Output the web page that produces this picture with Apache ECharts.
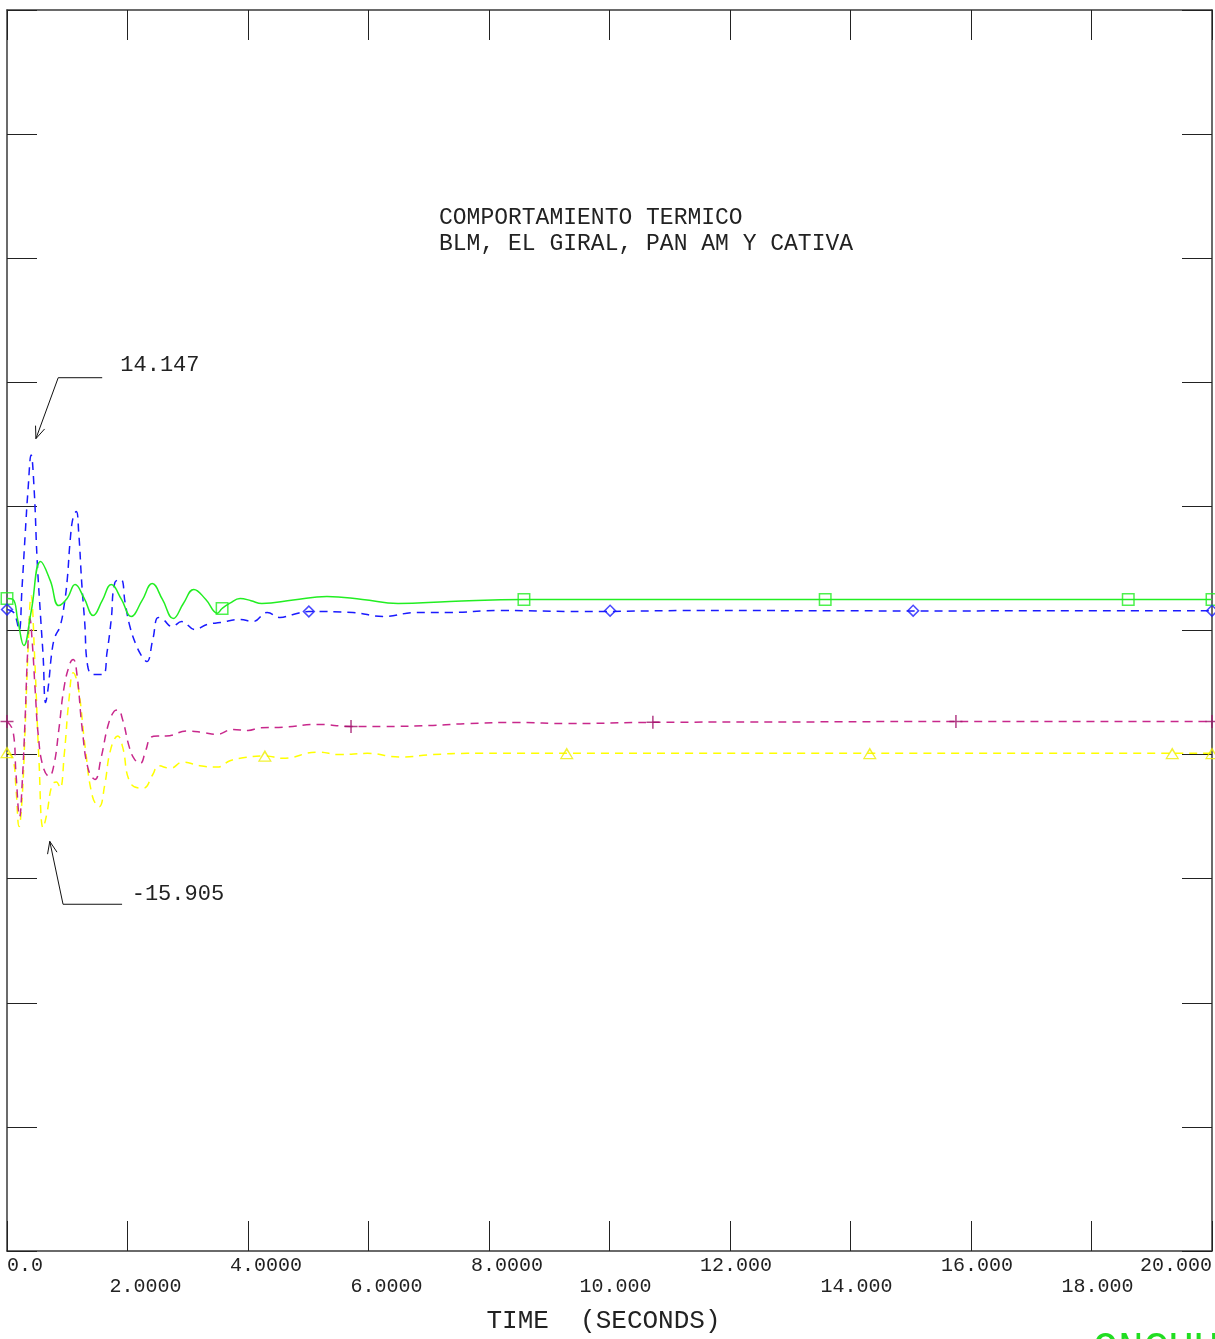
<!DOCTYPE html>
<html>
<head>
<meta charset="utf-8">
<script src="https://cdn.jsdelivr.net/npm/echarts@6/dist/echarts.min.js"></script>
<style>
html,body{margin:0;padding:0;background:#fff;}
#c{width:1215px;height:1339px;}
</style>
</head>
<body>
<div id="c"></div>
<script>
// ---------- data (time in seconds, value) ----------
const titleLines = ['COMPORTAMIENTO TERMICO', 'BLM, EL GIRAL, PAN AM Y CATIVA'];
const xName = 'TIME  (SECONDS)';
const xTickLabels = ['0.0','2.0000','4.0000','6.0000','8.0000','10.000','12.000','14.000','16.000','18.000','20.000'];
const maxLabel = '14.147';
const minLabel = '-15.905';
const footerText = 'ONCUU';

const green = [[0,2.58],[0.10,2.5],[0.18,0.8],[0.28,-1.21],[0.40,1.5],[0.56,5.56],[0.72,4.0],[0.86,2.01],[1.0,2.6],[1.13,3.70],[1.28,2.6],[1.43,1.21],[1.58,2.4],[1.73,3.70],[1.90,2.5],[2.06,1.13],[2.24,2.4],[2.41,3.78],[2.58,2.5],[2.76,0.97],[2.93,2.2],[3.10,3.30],[3.30,2.5],[3.49,1.4],[3.57,1.77],[3.70,2.2],[3.87,2.58],[4.05,2.4],[4.23,2.17],[4.75,2.45],[5.31,2.74],[5.9,2.5],[6.49,2.17],[7.35,2.33],[8.58,2.50],[12,2.5],[16,2.5],[20,2.5]];
const blue = [[0,1.69],[0.10,1.5],[0.15,1.0],[0.20,0.0],[0.25,3.5],[0.30,7.6],[0.35,11.4],[0.40,14.147],[0.45,11.4],[0.50,5.7],[0.56,0.9],[0.60,-2.1],[0.64,-5.8],[0.68,-4.75],[0.75,-1.53],[0.80,-0.48],[0.88,0.32],[0.95,2.09],[1.00,4.11],[1.05,7.33],[1.10,9.18],[1.15,9.58],[1.19,7.9],[1.24,3.86],[1.29,0.64],[1.34,-2.9],[1.43,-3.54],[1.59,-3.54],[1.66,-1.77],[1.73,0.89],[1.79,3.86],[1.89,4.11],[1.96,2.25],[2.04,0.32],[2.14,-1.13],[2.24,-2.09],[2.32,-2.50],[2.42,-0.72],[2.51,1.05],[2.59,0.89],[2.74,0.32],[2.90,0.72],[3.12,0.08],[3.32,0.48],[3.54,0.64],[3.87,0.89],[4.08,0.72],[4.32,1.45],[4.53,1.05],[4.75,1.29],[5.01,1.53],[5.74,1.45],[6.24,1.13],[6.80,1.45],[7.30,1.45],[8.18,1.61],[9.56,1.53],[11.5,1.61],[15,1.58],[20,1.6]];
const magenta = [[0,-7.33],[0.10,-8.1],[0.15,-11.6],[0.21,-15.0],[0.25,-12.5],[0.30,-7.2],[0.34,-2.0],[0.38,1.0],[0.42,-1.0],[0.47,-5.0],[0.52,-8.5],[0.60,-11.0],[0.70,-11.76],[0.78,-10.8],[0.86,-8.0],[0.95,-4.5],[1.05,-2.6],[1.10,-2.33],[1.16,-3.5],[1.25,-8.0],[1.35,-11.2],[1.46,-12.0],[1.56,-10.3],[1.68,-7.6],[1.78,-6.5],[1.84,-6.4],[1.92,-7.2],[2.03,-9.4],[2.12,-10.4],[2.21,-10.7],[2.30,-9.7],[2.39,-8.6],[2.50,-8.5],[2.64,-8.5],[2.99,-8.1],[3.25,-8.21],[3.48,-8.37],[3.75,-7.97],[4.0,-8.05],[4.2,-7.85],[4.58,-7.8],[5.15,-7.57],[5.71,-7.73],[6.24,-7.73],[7.07,-7.65],[7.64,-7.5],[8.47,-7.41],[9.30,-7.5],[10.72,-7.4],[13,-7.37],[15.75,-7.33],[20,-7.33]];
const yellow = [[0,-9.82],[0.10,-10.4],[0.15,-12.8],[0.20,-15.8],[0.25,-13.6],[0.30,-8.0],[0.35,-1.5],[0.40,2.8],[0.46,-2.3],[0.53,-10.4],[0.60,-15.905],[0.66,-14.8],[0.75,-12.4],[0.82,-12.2],[0.88,-12.7],[0.95,-10.0],[1.03,-5.5],[1.10,-3.4],[1.18,-4.5],[1.30,-9.5],[1.42,-13.4],[1.53,-14.2],[1.62,-12.5],[1.72,-9.6],[1.84,-8.5],[1.92,-9.4],[2.05,-12.3],[2.26,-12.7],[2.42,-11.6],[2.51,-10.9],[2.71,-11.1],[2.92,-10.6],[3.20,-10.9],[3.49,-11.0],[3.70,-10.5],[3.87,-10.3],[4.28,-10.1],[4.58,-10.3],[5.15,-9.8],[5.53,-10.0],[5.98,-9.9],[6.52,-10.2],[7.07,-10.0],[7.64,-9.9],[8.47,-9.9],[9.29,-9.9],[20,-9.9]];

const greenMarks = [[0,2.58],[3.57,1.77],[8.58,2.5],[13.58,2.5],[18.61,2.5],[20,2.5]];
const blueMarks = [[0,1.69],[5.01,1.53],[10.01,1.6],[15.04,1.6],[20,1.6]];
const magentaMarks = [[0,-7.33],[5.71,-7.73],[10.72,-7.4],[15.75,-7.33],[20,-7.33]];
const yellowMarks = [[0,-9.82],[4.28,-10.1],[9.29,-9.9],[14.32,-9.9],[19.34,-9.9],[20,-9.9]];

// annotation geometry in data coordinates: tip, knee, end of leader, text anchor
const maxNote = {tip:[0.48,15.46], knee:[0.85,20.37], end:[1.58,20.37], text:[1.88,21.4]};
const minNote = {tip:[0.71,-16.99], knee:[0.93,-22.06], end:[1.91,-22.06], text:[2.07,-21.26]};

// ---------- chart ----------
const MONO = '"Liberation Mono","DejaVu Sans Mono",monospace';
const frame = {color:'#3a3a3a', width:1.5};
const tickStyle = {color:'#222', width:1};

function padLabel(s){
  const d = s.indexOf('.');
  const after = s.length - d - 1;
  const pad = Math.max(0, after - d);
  return ' '.repeat(pad) + s;
}

const symSquare = 'path://M0,0H12V12H0Z M1.4,1.4V10.6H10.6V1.4Z';
const symDiamond = 'path://M6,0L12,6L6,12L0,6Z M6,2L2,6L6,10L10,6Z';
const symTriangle = 'path://M6,0L12,11L0,11Z M6,2.8L1.8,9.8L10.2,9.8Z';
const symPlus = 'path://M5.3,0H6.7V12H5.3Z M0,5.3H12V6.7H0Z';

function lineSeries(data, color, dashed){
  return {type:'line', data:data, smooth:0.45, symbol:'none', showSymbol:false,
    lineStyle:{color:color, width:1.5, type: dashed ? [8,6] : 'solid'}, z:2, silent:true};
}
function markSeries(data, color, sym, w, h){
  return {type:'scatter', data:data, symbol:sym, symbolSize:[w,h], itemStyle:{color:color}, z:3, silent:true, clip:false};
}

const chart = echarts.init(document.getElementById('c'), null, {renderer:'canvas'});
const option = {
  animation:false,
  backgroundColor:'#ffffff',
  title:{text:titleLines.join('\n'), left:439, top:205, padding:0,
    textStyle:{fontFamily:MONO, fontSize:23, fontWeight:'normal', color:'#222', lineHeight:26}},
  grid:{left:7, right:3, top:10, bottom:87, containLabel:false},
  xAxis:[
    {type:'value', min:0, max:20, interval:2, position:'bottom',
     axisLine:{show:true, onZero:false, lineStyle:frame},
     axisTick:{show:true, inside:true, length:30, lineStyle:tickStyle},
     splitLine:{show:false},
     axisLabel:{show:true, margin:4, fontFamily:MONO, fontSize:20, color:'#222', lineHeight:21,
       alignMinLabel:'left', alignMaxLabel:'right',
       formatter:function(v){
         const i = Math.round(v/2);
         let s = xTickLabels[i];
         if (i !== 0 && i !== xTickLabels.length-1) s = padLabel(s);
         return (i % 2 === 1) ? '\n' + s : s;
       }},
     name:xName, nameLocation:'middle', nameGap:57,
     nameTextStyle:{fontFamily:MONO, fontSize:26, color:'#222', padding:[0,12,0,0]}},
    {type:'value', min:0, max:20, interval:2, position:'top',
     axisLine:{show:true, onZero:false, lineStyle:frame},
     axisTick:{show:true, inside:true, length:30, lineStyle:tickStyle},
     splitLine:{show:false}, axisLabel:{show:false}}
  ],
  yAxis:[
    {type:'value', min:-50, max:50, interval:10, position:'left',
     axisLine:{show:true, onZero:false, lineStyle:frame},
     axisTick:{show:true, inside:true, length:30, lineStyle:tickStyle},
     splitLine:{show:false}, axisLabel:{show:false}},
    {type:'value', min:-50, max:50, interval:10, position:'right',
     axisLine:{show:true, onZero:false, lineStyle:frame},
     axisTick:{show:true, inside:true, length:30, lineStyle:tickStyle},
     splitLine:{show:false}, axisLabel:{show:false}}
  ],
  series:[
    lineSeries(yellow, '#ffff00', true),
    lineSeries(magenta, '#c8288c', true),
    lineSeries(blue, '#1a1aff', true),
    lineSeries(green, '#22ee22', false),
    markSeries(greenMarks, '#22ee22', symSquare, 13, 13),
    markSeries(blueMarks, '#1a1aff', symDiamond, 13, 13),
    markSeries(magentaMarks, '#a0106a', symPlus, 13, 13),
    markSeries(yellowMarks, '#eeee00', symTriangle, 14, 12)
  ]
};
chart.setOption(option);

function px(p){ return chart.convertToPixel({gridIndex:0}, p); }
function noteGraphics(note, label){
  const tip = px(note.tip), knee = px(note.knee), end = px(note.end), tp = px(note.text);
  const ang = Math.atan2(tip[1]-knee[1], tip[0]-knee[0]);
  const L = 13, a = 0.38;
  const w1 = [tip[0] - L*Math.cos(ang - a), tip[1] - L*Math.sin(ang - a)];
  const w2 = [tip[0] - L*Math.cos(ang + a), tip[1] - L*Math.sin(ang + a)];
  const st = {stroke:'#111', lineWidth:1, fill:null};
  return [
    {type:'polyline', shape:{points:[end, knee, tip]}, style:st, silent:true, z:10},
    {type:'polyline', shape:{points:[w1, tip, w2]}, style:st, silent:true, z:10},
    {type:'text', x:tp[0], y:tp[1], style:{text:label, font:'22px ' + MONO, fill:'#222', textVerticalAlign:'middle', verticalAlign:'middle'}, silent:true, z:10}
  ];
}
chart.setOption({graphic:[].concat(
  noteGraphics(maxNote, maxLabel),
  noteGraphics(minNote, minLabel),
  [{type:'text', left:1093, top:1329, style:{text:footerText, font:'42px ' + MONO, fill:'#22dd22'}, silent:true}]
)});
</script>
</body>
</html>
